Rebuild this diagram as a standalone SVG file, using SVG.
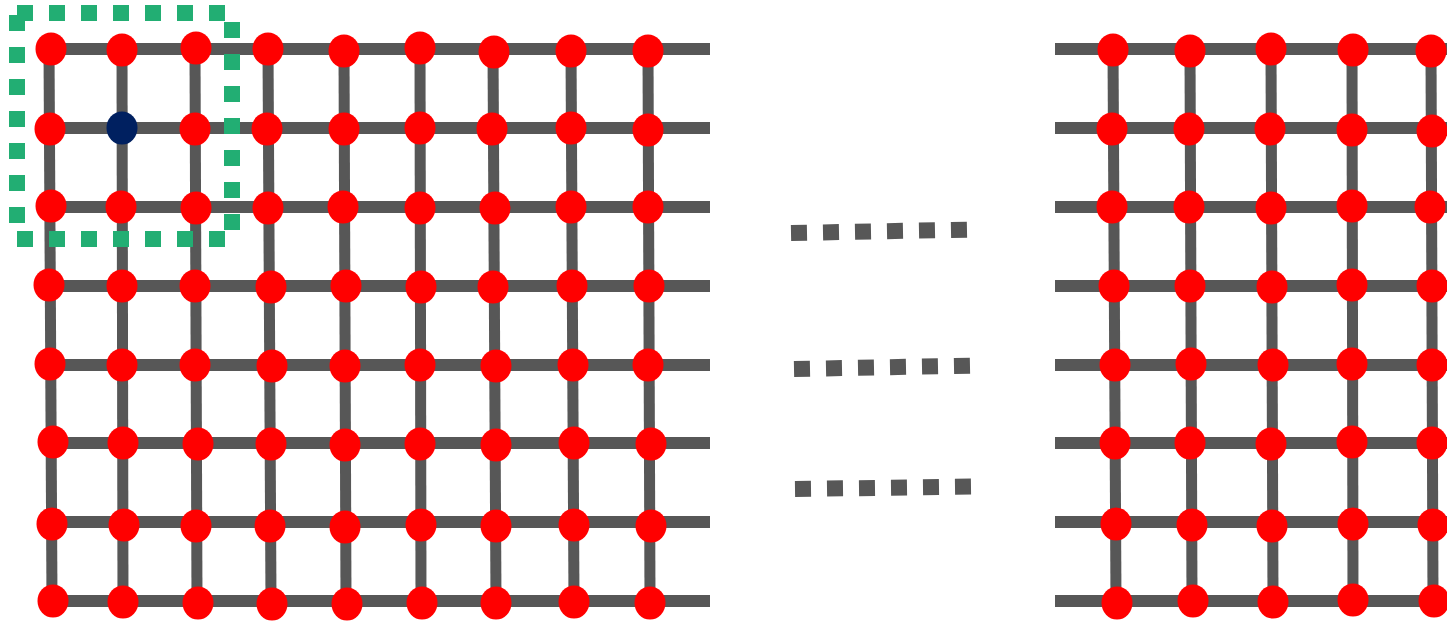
<svg xmlns="http://www.w3.org/2000/svg" width="1447" height="622" viewBox="0 0 1447 622">
<style>
.ln{stroke:#575757;stroke-width:12;fill:none;stroke-linecap:butt}
.vl{stroke:#575757;stroke-width:11;fill:none}
.n{fill:#FF0000}
.b{fill:#002060}
.dot{stroke:#575757;stroke-width:16;stroke-dasharray:16 16;fill:none}
.sel{stroke:#22AE73;stroke-width:16;stroke-dasharray:16 16;fill:none}
</style>
<rect width="1447" height="622" fill="#ffffff"/>
<g id="connectors">
<line class="ln" x1="45" y1="49" x2="710" y2="49"/>
<line class="ln" x1="45" y1="128" x2="710" y2="128"/>
<line class="ln" x1="45" y1="207" x2="710" y2="207"/>
<line class="ln" x1="45" y1="286" x2="710" y2="286"/>
<line class="ln" x1="45" y1="365" x2="710" y2="365"/>
<line class="ln" x1="48" y1="443" x2="710" y2="443"/>
<line class="ln" x1="48" y1="522" x2="710" y2="522"/>
<line class="ln" x1="48" y1="601" x2="710" y2="601"/>
<line class="ln" x1="1055" y1="49" x2="1447" y2="49"/>
<line class="ln" x1="1055" y1="128" x2="1447" y2="128"/>
<line class="ln" x1="1055" y1="207" x2="1447" y2="207"/>
<line class="ln" x1="1055" y1="286" x2="1447" y2="286"/>
<line class="ln" x1="1055" y1="365" x2="1447" y2="365"/>
<line class="ln" x1="1055" y1="443" x2="1447" y2="443"/>
<line class="ln" x1="1055" y1="522" x2="1447" y2="522"/>
<line class="ln" x1="1055" y1="601" x2="1447" y2="601"/>
<line class="vl" x1="49" y1="49" x2="52" y2="601"/>
<line class="vl" x1="122" y1="49" x2="123" y2="612"/>
<line class="vl" x1="195" y1="49" x2="197" y2="601"/>
<line class="vl" x1="268" y1="49" x2="271" y2="601"/>
<line class="vl" x1="344" y1="49" x2="346" y2="601"/>
<line class="vl" x1="420" y1="49" x2="421" y2="601"/>
<line class="vl" x1="493" y1="49" x2="496" y2="601"/>
<line class="vl" x1="571" y1="49" x2="574" y2="601"/>
<line class="vl" x1="648" y1="49" x2="650" y2="601"/>
<line class="vl" x1="1113" y1="49" x2="1116" y2="601"/>
<line class="vl" x1="1190" y1="49" x2="1192" y2="601"/>
<line class="vl" x1="1271" y1="49" x2="1273" y2="601"/>
<line class="vl" x1="1352" y1="49" x2="1353" y2="601"/>
<line class="vl" x1="1431" y1="49" x2="1433" y2="601"/>
<line class="dot" x1="791" y1="233" x2="975" y2="229.5"/>
<line class="dot" x1="794" y1="369" x2="978" y2="365.5"/>
<line class="dot" x1="795" y1="489" x2="979" y2="486.5"/>
</g>
<g id="selection">
<rect class="sel" x="17" y="13" width="215" height="226"/>
</g>
<g id="left-grid">
<g id="L1-1"><ellipse class="n" cx="51" cy="49" rx="15.5" ry="16.5"/></g>
<g id="L1-2"><ellipse class="n" cx="122" cy="50" rx="15.5" ry="16.5"/></g>
<g id="L1-3"><ellipse class="n" cx="196" cy="48" rx="15.5" ry="16.5"/></g>
<g id="L1-4"><ellipse class="n" cx="268" cy="49" rx="15.5" ry="16.5"/></g>
<g id="L1-5"><ellipse class="n" cx="344" cy="51" rx="15.5" ry="16.5"/></g>
<g id="L1-6"><ellipse class="n" cx="420" cy="48" rx="15.5" ry="16.5"/></g>
<g id="L1-7"><ellipse class="n" cx="494" cy="52" rx="15.5" ry="16.5"/></g>
<g id="L1-8"><ellipse class="n" cx="571" cy="51" rx="15.5" ry="16.5"/></g>
<g id="L1-9"><ellipse class="n" cx="648" cy="51" rx="15.5" ry="16.5"/></g>
<g id="L2-1"><ellipse class="n" cx="50" cy="129" rx="15.5" ry="16.5"/></g>
<g id="L2-2"><ellipse class="b" cx="122" cy="128" rx="15.5" ry="16.5"/></g>
<g id="L2-3"><ellipse class="n" cx="195" cy="129" rx="15.5" ry="16.5"/></g>
<g id="L2-4"><ellipse class="n" cx="267" cy="129" rx="15.5" ry="16.5"/></g>
<g id="L2-5"><ellipse class="n" cx="344" cy="129" rx="15.5" ry="16.5"/></g>
<g id="L2-6"><ellipse class="n" cx="420" cy="128" rx="15.5" ry="16.5"/></g>
<g id="L2-7"><ellipse class="n" cx="492" cy="129" rx="15.5" ry="16.5"/></g>
<g id="L2-8"><ellipse class="n" cx="571" cy="128" rx="15.5" ry="16.5"/></g>
<g id="L2-9"><ellipse class="n" cx="648" cy="130" rx="15.5" ry="16.5"/></g>
<g id="L3-1"><ellipse class="n" cx="51" cy="206" rx="15.5" ry="16.5"/></g>
<g id="L3-2"><ellipse class="n" cx="121" cy="207" rx="15.5" ry="16.5"/></g>
<g id="L3-3"><ellipse class="n" cx="196" cy="208" rx="15.5" ry="16.5"/></g>
<g id="L3-4"><ellipse class="n" cx="268" cy="208" rx="15.5" ry="16.5"/></g>
<g id="L3-5"><ellipse class="n" cx="343" cy="207" rx="15.5" ry="16.5"/></g>
<g id="L3-6"><ellipse class="n" cx="420" cy="208" rx="15.5" ry="16.5"/></g>
<g id="L3-7"><ellipse class="n" cx="495" cy="208" rx="15.5" ry="16.5"/></g>
<g id="L3-8"><ellipse class="n" cx="571" cy="207" rx="15.5" ry="16.5"/></g>
<g id="L3-9"><ellipse class="n" cx="648" cy="207" rx="15.5" ry="16.5"/></g>
<g id="L4-1"><ellipse class="n" cx="49" cy="285" rx="15.5" ry="16.5"/></g>
<g id="L4-2"><ellipse class="n" cx="122" cy="286" rx="15.5" ry="16.5"/></g>
<g id="L4-3"><ellipse class="n" cx="195" cy="286" rx="15.5" ry="16.5"/></g>
<g id="L4-4"><ellipse class="n" cx="271" cy="287" rx="15.5" ry="16.5"/></g>
<g id="L4-5"><ellipse class="n" cx="346" cy="286" rx="15.5" ry="16.5"/></g>
<g id="L4-6"><ellipse class="n" cx="421" cy="287" rx="15.5" ry="16.5"/></g>
<g id="L4-7"><ellipse class="n" cx="493" cy="287" rx="15.5" ry="16.5"/></g>
<g id="L4-8"><ellipse class="n" cx="572" cy="286" rx="15.5" ry="16.5"/></g>
<g id="L4-9"><ellipse class="n" cx="649" cy="286" rx="15.5" ry="16.5"/></g>
<g id="L5-1"><ellipse class="n" cx="50" cy="364" rx="15.5" ry="16.5"/></g>
<g id="L5-2"><ellipse class="n" cx="122" cy="365" rx="15.5" ry="16.5"/></g>
<g id="L5-3"><ellipse class="n" cx="195" cy="365" rx="15.5" ry="16.5"/></g>
<g id="L5-4"><ellipse class="n" cx="272" cy="366" rx="15.5" ry="16.5"/></g>
<g id="L5-5"><ellipse class="n" cx="345" cy="366" rx="15.5" ry="16.5"/></g>
<g id="L5-6"><ellipse class="n" cx="420" cy="365" rx="15.5" ry="16.5"/></g>
<g id="L5-7"><ellipse class="n" cx="496" cy="366" rx="15.5" ry="16.5"/></g>
<g id="L5-8"><ellipse class="n" cx="573" cy="365" rx="15.5" ry="16.5"/></g>
<g id="L5-9"><ellipse class="n" cx="648" cy="365" rx="15.5" ry="16.5"/></g>
<g id="L6-1"><ellipse class="n" cx="53" cy="442" rx="15.5" ry="16.5"/></g>
<g id="L6-2"><ellipse class="n" cx="123" cy="443" rx="15.5" ry="16.5"/></g>
<g id="L6-3"><ellipse class="n" cx="198" cy="444" rx="15.5" ry="16.5"/></g>
<g id="L6-4"><ellipse class="n" cx="271" cy="444" rx="15.5" ry="16.5"/></g>
<g id="L6-5"><ellipse class="n" cx="345" cy="445" rx="15.5" ry="16.5"/></g>
<g id="L6-6"><ellipse class="n" cx="420" cy="444" rx="15.5" ry="16.5"/></g>
<g id="L6-7"><ellipse class="n" cx="496" cy="445" rx="15.5" ry="16.5"/></g>
<g id="L6-8"><ellipse class="n" cx="574" cy="443" rx="15.5" ry="16.5"/></g>
<g id="L6-9"><ellipse class="n" cx="651" cy="444" rx="15.5" ry="16.5"/></g>
<g id="L7-1"><ellipse class="n" cx="52" cy="524" rx="15.5" ry="16.5"/></g>
<g id="L7-2"><ellipse class="n" cx="124" cy="525" rx="15.5" ry="16.5"/></g>
<g id="L7-3"><ellipse class="n" cx="196" cy="526" rx="15.5" ry="16.5"/></g>
<g id="L7-4"><ellipse class="n" cx="270" cy="526" rx="15.5" ry="16.5"/></g>
<g id="L7-5"><ellipse class="n" cx="345" cy="527" rx="15.5" ry="16.5"/></g>
<g id="L7-6"><ellipse class="n" cx="421" cy="525" rx="15.5" ry="16.5"/></g>
<g id="L7-7"><ellipse class="n" cx="496" cy="526" rx="15.5" ry="16.5"/></g>
<g id="L7-8"><ellipse class="n" cx="574" cy="525" rx="15.5" ry="16.5"/></g>
<g id="L7-9"><ellipse class="n" cx="651" cy="526" rx="15.5" ry="16.5"/></g>
<g id="L8-1"><ellipse class="n" cx="53" cy="601" rx="15.5" ry="16.5"/></g>
<g id="L8-2"><ellipse class="n" cx="123" cy="602" rx="15.5" ry="16.5"/></g>
<g id="L8-3"><ellipse class="n" cx="198" cy="603" rx="15.5" ry="16.5"/></g>
<g id="L8-4"><ellipse class="n" cx="272" cy="604" rx="15.5" ry="16.5"/></g>
<g id="L8-5"><ellipse class="n" cx="347" cy="604" rx="15.5" ry="16.5"/></g>
<g id="L8-6"><ellipse class="n" cx="422" cy="603" rx="15.5" ry="16.5"/></g>
<g id="L8-7"><ellipse class="n" cx="496" cy="603" rx="15.5" ry="16.5"/></g>
<g id="L8-8"><ellipse class="n" cx="574" cy="602" rx="15.5" ry="16.5"/></g>
<g id="L8-9"><ellipse class="n" cx="650" cy="603" rx="15.5" ry="16.5"/></g>
</g>
<g id="right-grid">
<g id="R1-1"><ellipse class="n" cx="1113" cy="50" rx="15.5" ry="16.5"/></g>
<g id="R1-2"><ellipse class="n" cx="1190" cy="51" rx="15.5" ry="16.5"/></g>
<g id="R1-3"><ellipse class="n" cx="1271" cy="49" rx="15.5" ry="16.5"/></g>
<g id="R1-4"><ellipse class="n" cx="1353" cy="50" rx="15.5" ry="16.5"/></g>
<g id="R1-5"><ellipse class="n" cx="1431" cy="51" rx="15.5" ry="16.5"/></g>
<g id="R2-1"><ellipse class="n" cx="1112" cy="129" rx="15.5" ry="16.5"/></g>
<g id="R2-2"><ellipse class="n" cx="1189" cy="129" rx="15.5" ry="16.5"/></g>
<g id="R2-3"><ellipse class="n" cx="1270" cy="129" rx="15.5" ry="16.5"/></g>
<g id="R2-4"><ellipse class="n" cx="1352" cy="130" rx="15.5" ry="16.5"/></g>
<g id="R2-5"><ellipse class="n" cx="1432" cy="131" rx="15.5" ry="16.5"/></g>
<g id="R3-1"><ellipse class="n" cx="1112" cy="207" rx="15.5" ry="16.5"/></g>
<g id="R3-2"><ellipse class="n" cx="1189" cy="207" rx="15.5" ry="16.5"/></g>
<g id="R3-3"><ellipse class="n" cx="1271" cy="208" rx="15.5" ry="16.5"/></g>
<g id="R3-4"><ellipse class="n" cx="1352" cy="206" rx="15.5" ry="16.5"/></g>
<g id="R3-5"><ellipse class="n" cx="1430" cy="207" rx="15.5" ry="16.5"/></g>
<g id="R4-1"><ellipse class="n" cx="1114" cy="286" rx="15.5" ry="16.5"/></g>
<g id="R4-2"><ellipse class="n" cx="1190" cy="286" rx="15.5" ry="16.5"/></g>
<g id="R4-3"><ellipse class="n" cx="1272" cy="287" rx="15.5" ry="16.5"/></g>
<g id="R4-4"><ellipse class="n" cx="1352" cy="285" rx="15.5" ry="16.5"/></g>
<g id="R4-5"><ellipse class="n" cx="1432" cy="286" rx="15.5" ry="16.5"/></g>
<g id="R5-1"><ellipse class="n" cx="1115" cy="365" rx="15.5" ry="16.5"/></g>
<g id="R5-2"><ellipse class="n" cx="1191" cy="364" rx="15.5" ry="16.5"/></g>
<g id="R5-3"><ellipse class="n" cx="1273" cy="365" rx="15.5" ry="16.5"/></g>
<g id="R5-4"><ellipse class="n" cx="1352" cy="364" rx="15.5" ry="16.5"/></g>
<g id="R5-5"><ellipse class="n" cx="1432" cy="365" rx="15.5" ry="16.5"/></g>
<g id="R6-1"><ellipse class="n" cx="1115" cy="443" rx="15.5" ry="16.5"/></g>
<g id="R6-2"><ellipse class="n" cx="1190" cy="443" rx="15.5" ry="16.5"/></g>
<g id="R6-3"><ellipse class="n" cx="1271" cy="444" rx="15.5" ry="16.5"/></g>
<g id="R6-4"><ellipse class="n" cx="1352" cy="442" rx="15.5" ry="16.5"/></g>
<g id="R6-5"><ellipse class="n" cx="1432" cy="443" rx="15.5" ry="16.5"/></g>
<g id="R7-1"><ellipse class="n" cx="1116" cy="524" rx="15.5" ry="16.5"/></g>
<g id="R7-2"><ellipse class="n" cx="1192" cy="525" rx="15.5" ry="16.5"/></g>
<g id="R7-3"><ellipse class="n" cx="1272" cy="526" rx="15.5" ry="16.5"/></g>
<g id="R7-4"><ellipse class="n" cx="1353" cy="524" rx="15.5" ry="16.5"/></g>
<g id="R7-5"><ellipse class="n" cx="1433" cy="525" rx="15.5" ry="16.5"/></g>
<g id="R8-1"><ellipse class="n" cx="1117" cy="603" rx="15.5" ry="16.5"/></g>
<g id="R8-2"><ellipse class="n" cx="1193" cy="601" rx="15.5" ry="16.5"/></g>
<g id="R8-3"><ellipse class="n" cx="1273" cy="602" rx="15.5" ry="16.5"/></g>
<g id="R8-4"><ellipse class="n" cx="1353" cy="600" rx="15.5" ry="16.5"/></g>
<g id="R8-5"><ellipse class="n" cx="1434" cy="601" rx="15.5" ry="16.5"/></g>
</g>
</svg>
